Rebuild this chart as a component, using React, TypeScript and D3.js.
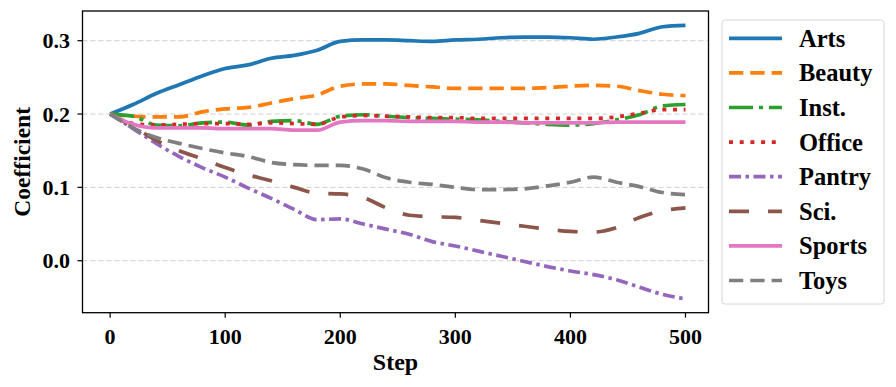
import React from "react";
import * as d3 from "d3";

const W = 896;
const H = 387;
const FONT = "'Liberation Serif', 'Times New Roman', serif";

// steps sampled every 20
const steps = d3.range(0, 501, 20);

const arts = [0.200, 0.213, 0.228, 0.240, 0.252, 0.262, 0.267, 0.276, 0.280, 0.287, 0.299, 0.301, 0.301, 0.300, 0.299, 0.301, 0.302, 0.304, 0.305, 0.305, 0.304, 0.302, 0.305, 0.310, 0.319, 0.321];
const beauty = [0.200, 0.197, 0.196, 0.196, 0.203, 0.207, 0.209, 0.215, 0.221, 0.226, 0.238, 0.241, 0.241, 0.239, 0.237, 0.235, 0.235, 0.235, 0.235, 0.236, 0.238, 0.239, 0.238, 0.232, 0.227, 0.225];
const inst = [0.200, 0.197, 0.185, 0.184, 0.188, 0.189, 0.185, 0.190, 0.191, 0.186, 0.197, 0.199, 0.197, 0.195, 0.194, 0.193, 0.192, 0.190, 0.188, 0.186, 0.185, 0.187, 0.192, 0.199, 0.211, 0.213];
const office = [0.200, 0.187, 0.185, 0.186, 0.187, 0.187, 0.186, 0.188, 0.187, 0.186, 0.196, 0.198, 0.197, 0.196, 0.195, 0.195, 0.194, 0.194, 0.194, 0.194, 0.194, 0.194, 0.196, 0.201, 0.206, 0.206];
const pantry = [0.200, 0.180, 0.160, 0.142, 0.127, 0.114, 0.099, 0.085, 0.070, 0.056, 0.057, 0.050, 0.043, 0.036, 0.026, 0.020, 0.013, 0.006, -0.001, -0.008, -0.014, -0.019, -0.026, -0.036, -0.046, -0.052];
const sci = [0.200, 0.183, 0.164, 0.150, 0.139, 0.127, 0.117, 0.109, 0.100, 0.092, 0.091, 0.086, 0.072, 0.062, 0.060, 0.059, 0.055, 0.051, 0.047, 0.043, 0.040, 0.039, 0.045, 0.059, 0.068, 0.072];
const sports = [0.200, 0.186, 0.181, 0.181, 0.181, 0.180, 0.180, 0.180, 0.178, 0.178, 0.189, 0.191, 0.191, 0.190, 0.190, 0.190, 0.189, 0.189, 0.188, 0.188, 0.188, 0.188, 0.189, 0.189, 0.189, 0.189];
const toys = [0.200, 0.181, 0.168, 0.160, 0.153, 0.147, 0.142, 0.134, 0.131, 0.130, 0.130, 0.125, 0.113, 0.107, 0.104, 0.100, 0.097, 0.097, 0.098, 0.102, 0.107, 0.114, 0.107, 0.101, 0.093, 0.090];

const xTicks = [0, 100, 200, 300, 400, 500];
const yTicks = [0.0, 0.1, 0.2, 0.3];

const series = [
  { name: "Arts", values: arts, color: "#1f77b4", dash: null },
  { name: "Beauty", values: beauty, color: "#ff7f0e", dash: "14.3,7" },
  { name: "Inst.", values: inst, color: "#2ca02c", dash: "24,6,4,6" },
  { name: "Office", values: office, color: "#d62728", dash: "4,6.7" },
  { name: "Pantry", values: pantry, color: "#9467bd", dash: "12,4.5,3.5,4.5" },
  { name: "Sci.", values: sci, color: "#8c564b", dash: "20,19" },
  { name: "Sports", values: sports, color: "#e377c2", dash: null },
  { name: "Toys", values: toys, color: "#7f7f7f", dash: "14.3,7" },
];

const PLOT = { left: 82.5, right: 708.5, top: 11, bottom: 312.7 };

export default function App() {
  const x = d3.scaleLinear().domain([-24, 520]).range([PLOT.left, PLOT.right]);
  const y = d3.scaleLinear().domain([-0.0709, 0.3405]).range([PLOT.bottom, PLOT.top]);

  const line = (vals: number[]) =>
    d3.line<number>()
      .x((_, i) => x(steps[i]))
      .y(d => y(d))
      .curve(d3.curveMonotoneX)(vals) || "";

  const legX = 722, legY = 20, legW = 162, legH = 284;
  const rowY = (i: number) => 38.3 + i * 34.6;

  return (
    <svg width={W} height={H} style={{ position: "absolute", left: 0, top: 0, display: "block" }}
      fontFamily={FONT} fontWeight="bold">
      <rect width={W} height={H} fill="#fff" />
      <defs>
        <clipPath id="plotClip">
          <rect x={PLOT.left} y={PLOT.top} width={PLOT.right - PLOT.left} height={PLOT.bottom - PLOT.top} />
        </clipPath>
      </defs>

      {/* grid */}
      {yTicks.map(t => (
        <line key={t} x1={PLOT.left} x2={PLOT.right} y1={y(t)} y2={y(t)}
          stroke="#cfcfcf" strokeWidth={1} strokeDasharray="5,3" />
      ))}

      {/* lines */}
      <g clipPath="url(#plotClip)">
        {series.map(s => (
          <path key={s.name} d={line(s.values)} fill="none" stroke={s.color} strokeWidth={3.7}
            strokeDasharray={s.dash || undefined} strokeLinejoin="round" />
        ))}
      </g>

      {/* frame */}
      <rect x={PLOT.left} y={PLOT.top} width={PLOT.right - PLOT.left} height={PLOT.bottom - PLOT.top}
        fill="none" stroke="#000" strokeWidth={1.3} />

      {/* x axis */}
      {xTicks.map(t => (
        <g key={t}>
          <line x1={x(t)} x2={x(t)} y1={PLOT.bottom} y2={PLOT.bottom + 5} stroke="#000" strokeWidth={1.2} />
          <text x={x(t)} y={344} textAnchor="middle" fontSize={22}>{t}</text>
        </g>
      ))}
      <text x={(PLOT.left + PLOT.right) / 2} y={370} textAnchor="middle" fontSize={24}>Step</text>

      {/* y axis */}
      {yTicks.map(t => (
        <g key={t}>
          <line x1={PLOT.left - 5} x2={PLOT.left} y1={y(t)} y2={y(t)} stroke="#000" strokeWidth={1.2} />
          <text x={70} y={y(t)} dy="0.35em" textAnchor="end" fontSize={22}>{d3.format(".1f")(t)}</text>
        </g>
      ))}
      <text transform={`translate(30, ${(PLOT.top + PLOT.bottom) / 2}) rotate(-90)`} textAnchor="middle" fontSize={23.5}>
        Coefficient
      </text>

      {/* legend */}
      <rect x={legX} y={legY} width={legW} height={legH} rx={3} fill="#fff" fillOpacity={0.8}
        stroke="#d6d6d6" strokeWidth={1} />
      {series.map((s, i) => (
        <g key={s.name}>
          <line x1={729} x2={782} y1={rowY(i)} y2={rowY(i)} stroke={s.color} strokeWidth={3.7}
            strokeDasharray={s.dash || undefined} />
          <text x={799} y={rowY(i)} dy="0.35em" fontSize={24.5}>{s.name}</text>
        </g>
      ))}
    </svg>
  );
}
